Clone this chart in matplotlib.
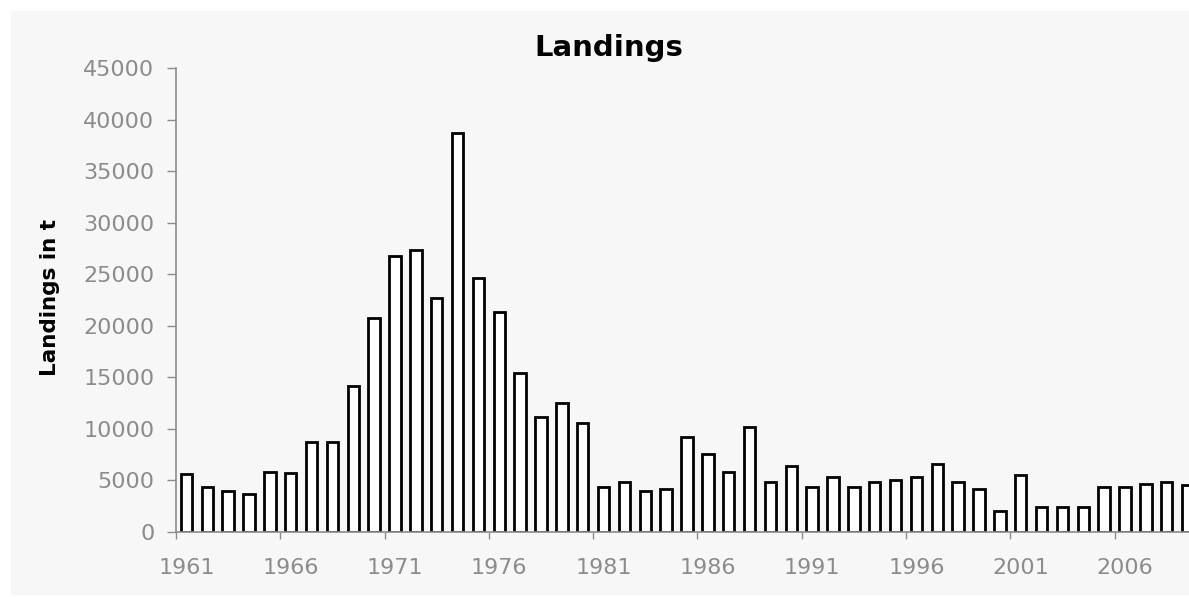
import numpy as np
import matplotlib.pyplot as plt
from matplotlib.patches import Rectangle

# annual landings (t), 1961-2009
years = np.arange(1961, 2010)
landings = [
    5600, 4400, 4000, 3700, 5850, 5700, 8700, 8700, 14150, 20750,
    26800, 27350, 22700, 38700, 24600, 21300, 15450, 11150, 12500, 10600,
    4400, 4880, 3980, 4170, 9250, 7570, 5850, 10150, 4880, 6400,
    4340, 5370, 4400, 4880, 5050, 5310, 6600, 4880, 4140, 2070,
    5530, 2460, 2460, 2460, 4340, 4340, 4660, 4880, 4560,
]
label_years = years[::5]

W, H = 1189, 597
fig = plt.figure(figsize=(W / 100, H / 100), dpi=100)
fig.patch.set_facecolor("white")
fig.patches.append(Rectangle((11 / W, 2 / H), 1, 1 - 13 / H, transform=fig.transFigure,
                             facecolor="#f7f7f7", edgecolor="none", zorder=-1))

ax = fig.add_axes([176 / W, 1 - 532 / H, 1022 / W, (532 - 68) / H])
ax.set_facecolor("none")

ax.bar(years, landings, width=0.55, color="white", edgecolor="black", linewidth=2)

ax.set_xlim(1960.5, 2009.5)
ax.set_ylim(0, 45000)
ax.set_yticks(np.arange(0, 45001, 5000))
ax.set_xticks(label_years)
ax.set_xticks(np.arange(1960.5, 2010, 5), minor=True)

grey = "#8c8c8c"
for side in ["top", "right"]:
    ax.spines[side].set_visible(False)
for side in ["left", "bottom"]:
    ax.spines[side].set_color(grey)
    ax.spines[side].set_linewidth(1.2)

ax.tick_params(axis="y", direction="out", length=6.5, width=1, color=grey,
               labelcolor=grey, labelsize=16, pad=9)
ax.tick_params(axis="x", which="major", length=0, labelcolor=grey, labelsize=16, pad=19)
ax.tick_params(axis="x", which="minor", direction="out", length=5, width=1, color=grey)

fig.text(609 / W, 1 - 48 / H, "Landings", ha="center", va="center",
         fontsize=21, fontweight="bold")
fig.text(50 / W, 1 - 298 / H, "Landings in t", ha="center", va="center",
         rotation=90, fontsize=15.5, fontweight="bold")

fig.savefig("out.png", dpi=100)
